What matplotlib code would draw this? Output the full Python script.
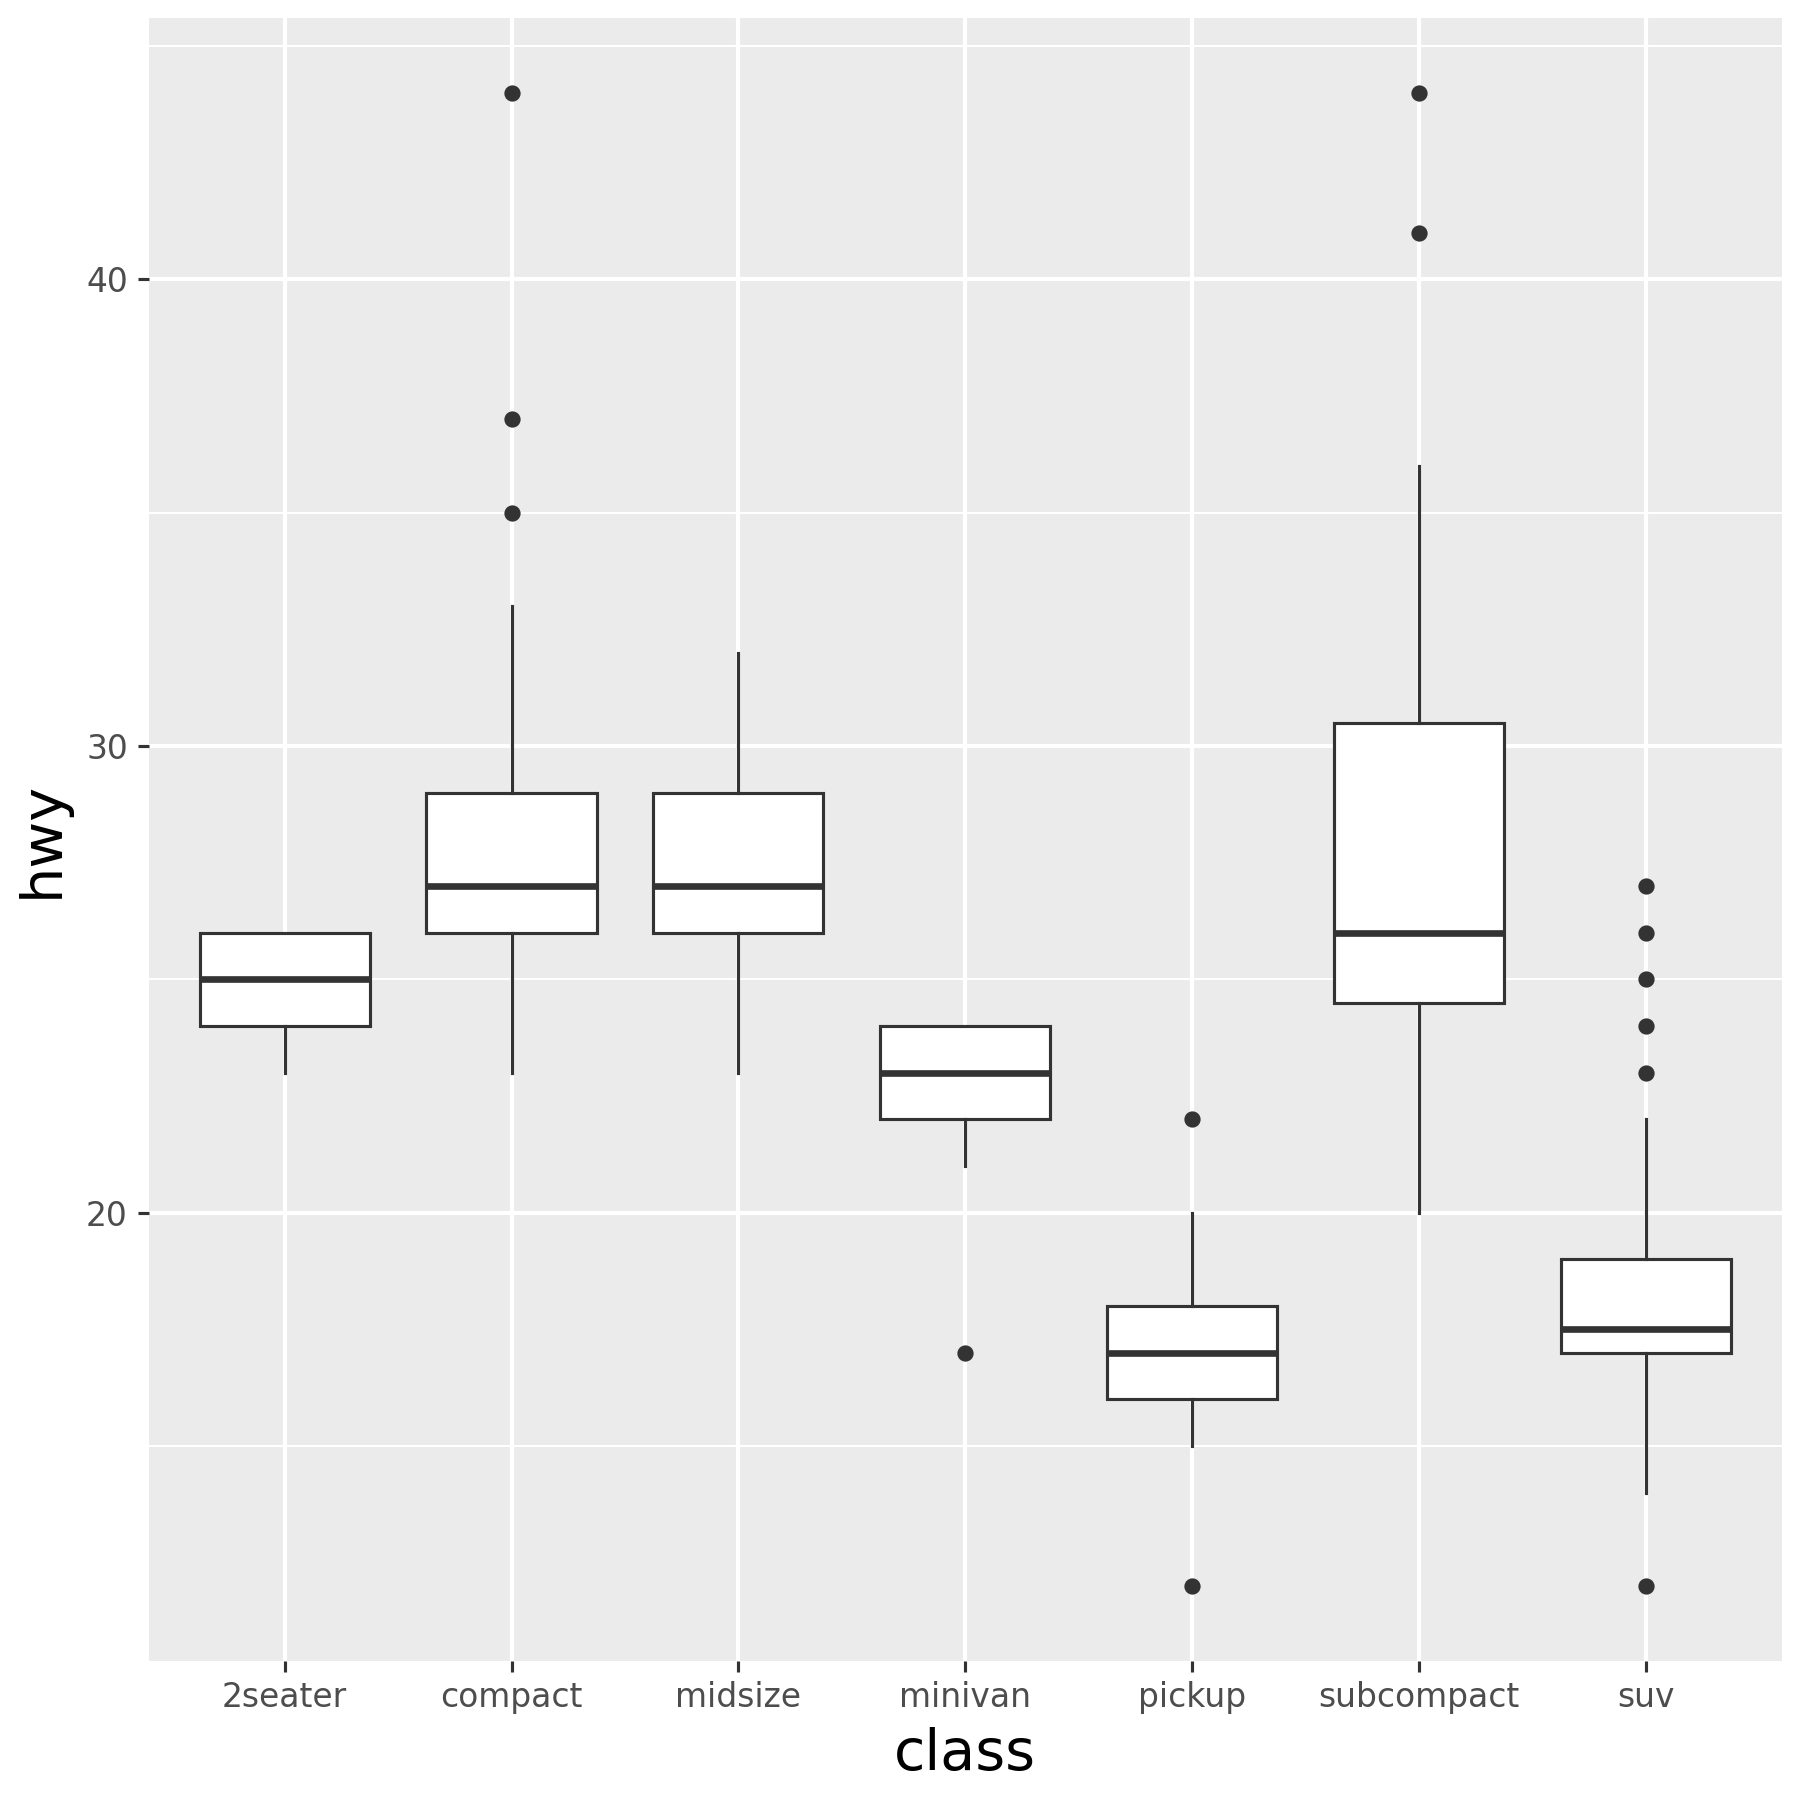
import numpy as np
import matplotlib
matplotlib.use("Agg")
import matplotlib.pyplot as plt
from matplotlib.ticker import FixedLocator

# box statistics of hwy by class
classes = ['2seater', 'compact', 'midsize', 'minivan', 'pickup', 'subcompact', 'suv']
whislo = [23, 23, 23, 21, 15, 20, 14]
q1 = [24, 26, 26, 22, 16, 24.5, 17]
med = [25, 27, 27, 23, 17, 26, 17.5]
q3 = [26, 29, 29, 24, 18, 30.5, 19]
whishi = [26, 33, 32, 24, 20, 36, 22]
outliers = [[], [35, 37, 44], [], [17], [12, 22], [41, 44], [12, 23, 24, 25, 26, 27]]

major_y = [20, 30, 40]
minor_y = [15, 25, 35, 45]

stats = []
for i in range(len(classes)):
    stats.append({'whislo': whislo[i], 'q1': q1[i], 'med': med[i], 'q3': q3[i],
                  'whishi': whishi[i], 'fliers': outliers[i], 'label': classes[i]})

dark = '#333333'
fig = plt.figure(figsize=(6, 6), dpi=300)
ax = fig.add_axes([0.0825, 0.0775, 0.9075, 0.9125])
ax.set_facecolor('#EBEBEB')
for s in ax.spines.values():
    s.set_visible(False)

pos = np.arange(1, len(classes) + 1)
ax.bxp(stats, positions=pos, widths=0.75, patch_artist=True, showcaps=False,
       boxprops=dict(facecolor='white', edgecolor=dark, linewidth=0.75),
       whiskerprops=dict(color=dark, linewidth=0.75),
       medianprops=dict(color=dark, linewidth=1.6, solid_capstyle='butt'),
       flierprops=dict(marker='o', markerfacecolor=dark, markeredgecolor=dark,
                       markersize=2.9, linestyle='none'),
       zorder=3)

ax.set_xlim(0.4, len(classes) + 0.6)
ax.set_ylim(10.4, 45.6)
ax.set_xticks(pos)
ax.set_xticklabels(classes)
ax.yaxis.set_major_locator(FixedLocator(major_y))
ax.yaxis.set_minor_locator(FixedLocator(minor_y))

ax.grid(True, which='major', color='white', linewidth=1.0, zorder=0)
ax.grid(True, which='minor', axis='y', color='white', linewidth=0.5, zorder=0)
ax.set_axisbelow(True)

ax.tick_params(axis='both', which='major', length=2.75, width=0.75, color=dark,
               labelsize=7.9, labelcolor='#4D4D4D', pad=2.2)
ax.tick_params(axis='y', which='minor', length=0)

ax.set_xlabel('class', fontsize=13.75, color='black', labelpad=3)
ax.set_ylabel('hwy', fontsize=13.75, color='black', labelpad=4)

fig.savefig('out.png', dpi=300, facecolor='white')
